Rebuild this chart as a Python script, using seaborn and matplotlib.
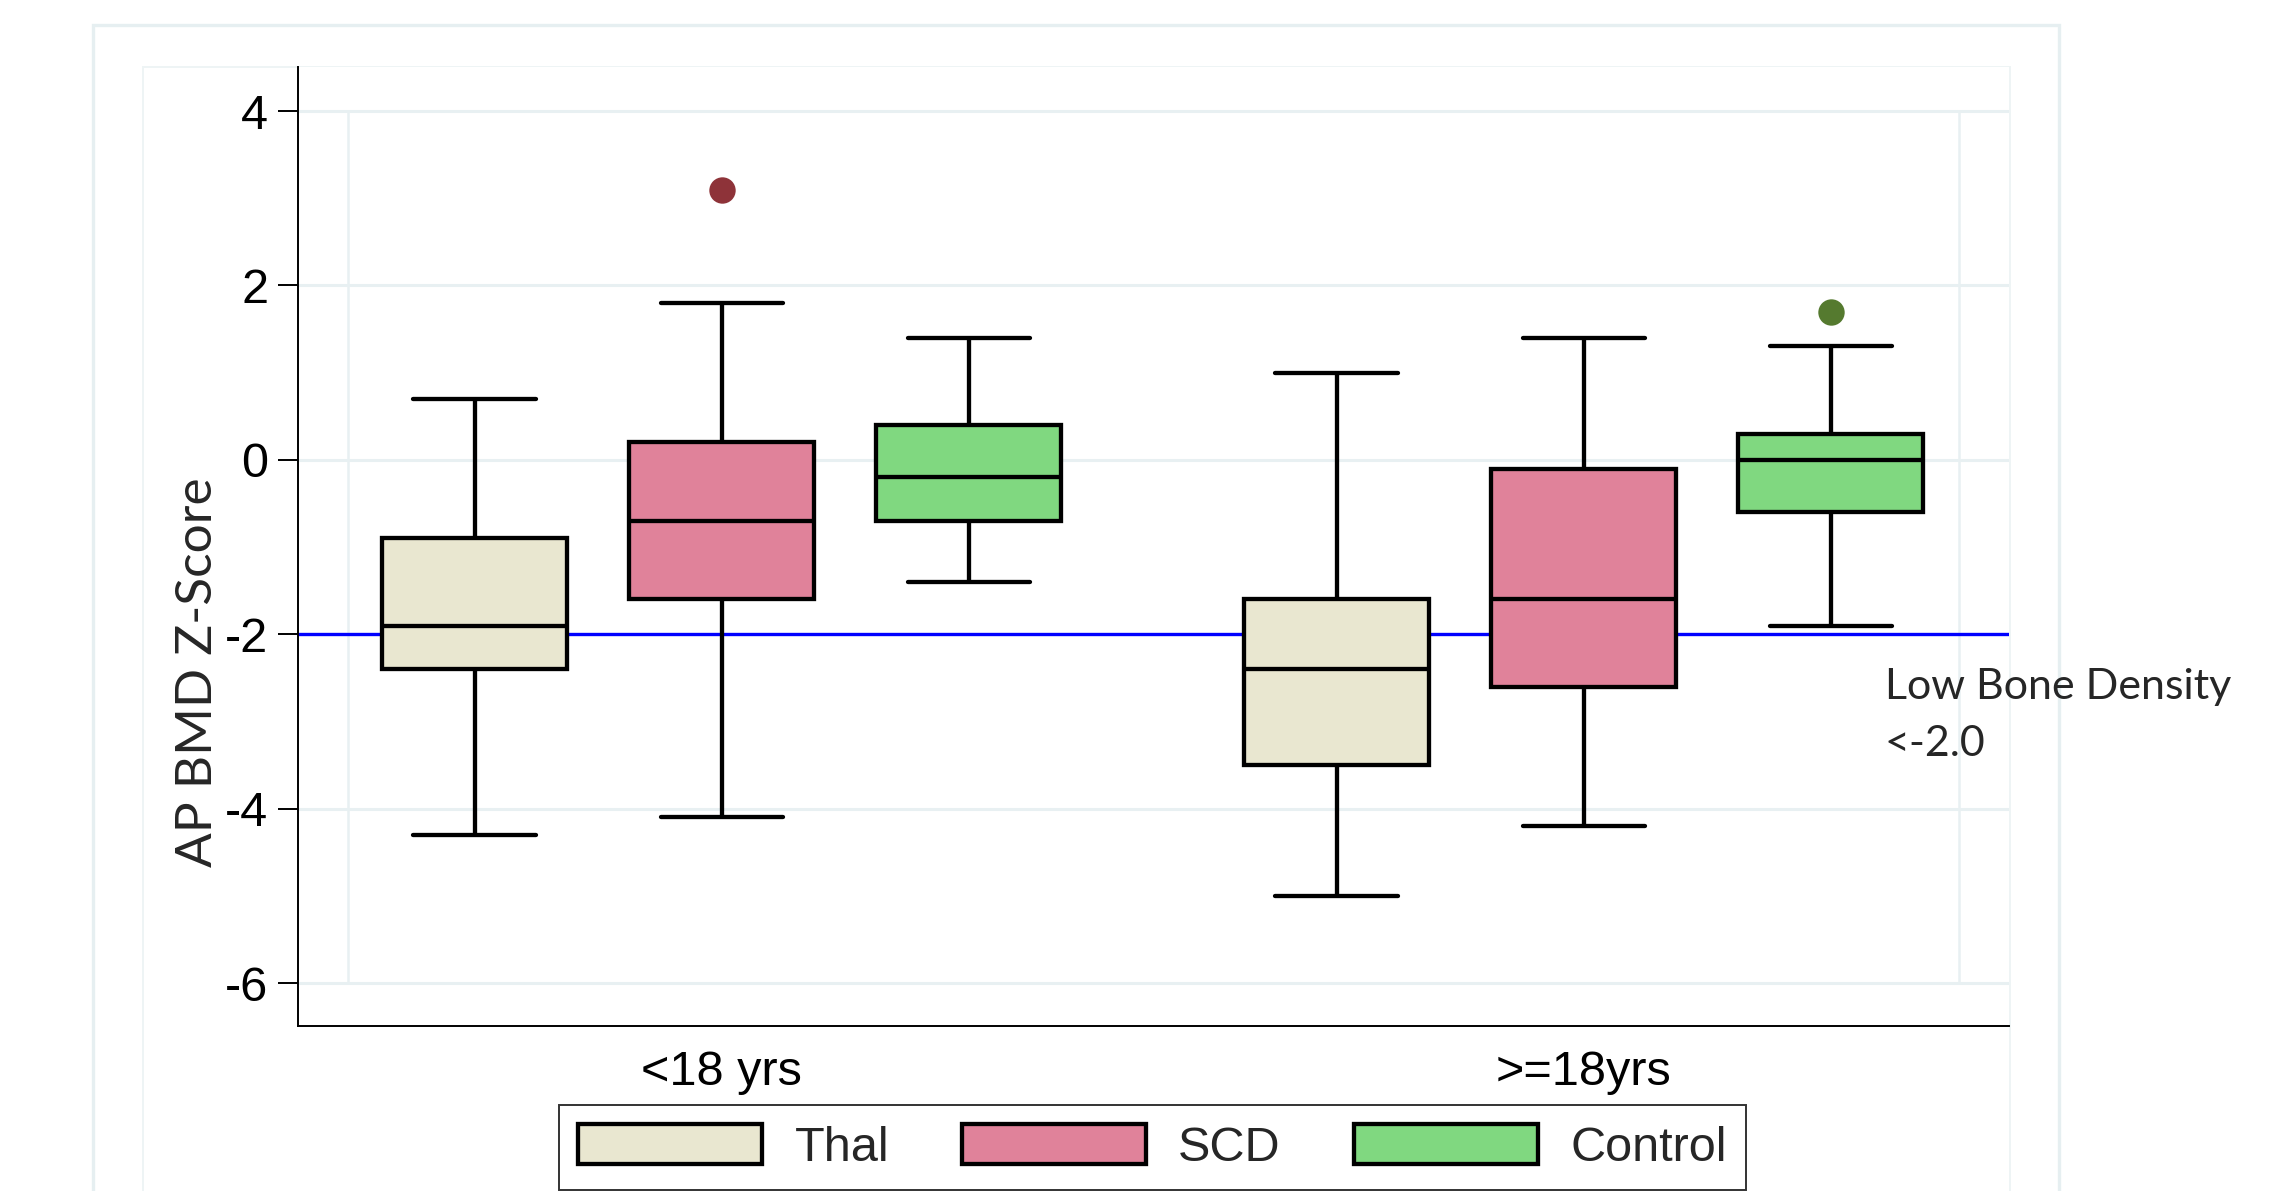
import numpy as np
import pandas as pd
import matplotlib
matplotlib.use("Agg")
import matplotlib.pyplot as plt
from matplotlib.patches import Patch
from matplotlib.lines import Line2D
import seaborn as sns

# ---- data -------------------------------------------------------------
age_groups = ["<18 yrs", ">=18yrs"]
cohorts = ["Thal", "SCD", "Control"]

# five-number summaries, ordered (age group, cohort)
whisker_low = [-4.3, -4.1, -1.4, -5.0, -4.2, -1.9]
q1 = [-2.4, -1.6, -0.7, -3.5, -2.6, -0.6]
median = [-1.9, -0.7, -0.2, -2.4, -1.6, 0.0]
q3 = [-0.9, 0.2, 0.4, -1.6, -0.1, 0.3]
whisker_high = [0.7, 1.8, 1.4, 1.0, 1.4, 1.3]
outliers = [[], [3.1], [], [], [], [1.7]]

yticks = [4, 2, 0, -2, -4, -6]
cutoff = -2.0

fill_colors = ["#e9e7d0", "#e0829a", "#80d880"]
outlier_colors = ["#8e3339", "#8e3339", "#557a2f"]

# Build per-box observations whose quartiles/whiskers equal the summaries
rows = []
i = 0
for age in age_groups:
    for coh in cohorts:
        obs = [whisker_low[i], q1[i], q1[i], median[i], median[i],
               q3[i], q3[i], whisker_high[i]] + list(outliers[i])
        rows += [{"age": age, "cohort": coh, "z": v} for v in obs]
        i += 1
df = pd.DataFrame(rows)

# ---- figure -----------------------------------------------------------
sns.set_theme(style="white")
plt.rcParams["font.family"] = ["Liberation Sans", "DejaVu Sans"]

W, H = 2291, 1191
fig = plt.figure(figsize=(W / 100, H / 100), dpi=100)
fig.patch.set_facecolor("white")

ax_left, ax_right, ax_top, ax_bottom = 298, 2009, 67, 1026
ax = fig.add_axes([ax_left / W, 1 - ax_bottom / H,
                   (ax_right - ax_left) / W, (ax_bottom - ax_top) / H])
ax.set_facecolor("white")

# light frames around the graph region
def fig_line(xs, ys, color, lw):
    fig.add_artist(Line2D([x / W for x in xs], [1 - y / H for y in ys],
                          color=color, lw=lw, transform=fig.transFigure,
                          solid_joinstyle="miter", zorder=0))

fig_line([93, 93, 2059, 2059], [H + 5, 25, 25, H + 5], "#e6eff1", 2.4)
fig_line([143, 143, 2010, 2010], [H + 5, 67, 67, H + 5], "#eef4f5", 1.4)

# grid
grid_c = "#e8f0f2"
for t in yticks:
    ax.axhline(t, color=grid_c, lw=2.2, zorder=0)
ax.vlines([-0.4335, 1.435], -6, 4, color=grid_c, lw=1.8, zorder=0)

# reference line for low bone density
ax.axhline(cutoff, color="#0000ff", lw=2.4, zorder=1)

sns.boxplot(data=df, x="age", y="z", hue="cohort", order=age_groups,
            hue_order=cohorts, palette=fill_colors, width=0.86, gap=0.25,
            linewidth=3.1, linecolor="black", saturation=1, whis=1.5,
            flierprops=dict(marker="o", markersize=19, markeredgewidth=0),
            legend=False, ax=ax, zorder=2)

# per-cohort outlier colours and wider whisker caps
box_w = 0.86 / 3 * (1 - 0.25)
for k, cont in enumerate(ax.containers):
    for f in getattr(cont, "fliers", []):
        f.set_markerfacecolor(outlier_colors[k])
        f.set_markeredgecolor(outlier_colors[k])
    for cap in getattr(cont, "caps", []):
        xd = np.asarray(cap.get_xdata(), dtype=float)
        c = xd.mean()
        cap.set_xdata([c - 0.33 * box_w, c + 0.33 * box_w])

ax.set_xlim(-0.4915, 1.4934)
ax.set_ylim(-6.493, 4.505)
ax.set_yticks(yticks)
ax.set_yticklabels([str(t) for t in yticks])
ax.set_xlabel("")
ax.set_ylabel("AP BMD Z-Score", family=["Lato", "DejaVu Sans"],
              fontsize=37, va="center")
ax.yaxis.set_label_coords(-0.0585, 0.369)

for side in ["top", "right"]:
    ax.spines[side].set_visible(False)
for side in ["left", "bottom"]:
    ax.spines[side].set_visible(True)
    ax.spines[side].set_color("black")
    ax.spines[side].set_linewidth(1.4)

ax.tick_params(axis="y", length=14.4, width=1.4, pad=7, labelsize=35,
               colors="black", left=True)
ax.tick_params(axis="x", length=0, pad=17, labelsize=35, colors="black")

# annotation for the cutoff line
ax.text(1.3495, -2.605, "Low Bone Density", family=["Lato", "DejaVu Sans"],
        fontsize=31, ha="left", va="center", clip_on=False)
ax.text(1.3495, -3.259, "<-2.0", family=["Lato", "DejaVu Sans"],
        fontsize=31, ha="left", va="center", clip_on=False)

# legend
handles = [Patch(facecolor=c, edgecolor="black", linewidth=3.1) for c in fill_colors]
leg = fig.legend(handles, cohorts, loc="center", bbox_to_anchor=(0.503, 0.0365),
                 ncol=3, frameon=True, fancybox=False, fontsize=35,
                 handlelength=3.79, handleheight=0.9, handletextpad=0.66,
                 columnspacing=1.5, borderpad=0.4)
leg.get_frame().set_edgecolor("black")
leg.get_frame().set_linewidth(1.4)

fig.savefig("out.png", dpi=100, facecolor="white")
